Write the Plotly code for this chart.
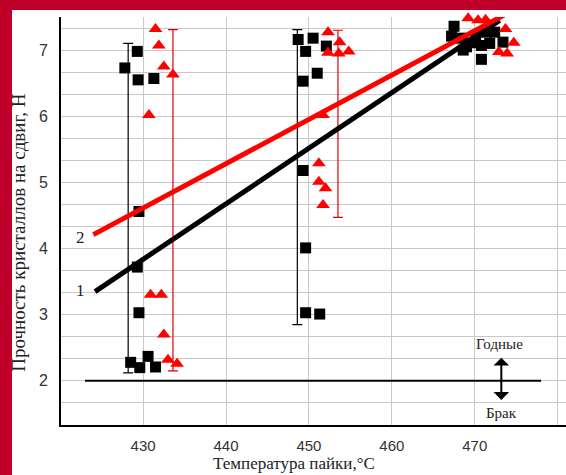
import plotly.graph_objects as go

# ---- data ----
# series 1 (black squares)
temp_1 = [427.8, 429.3, 429.4, 431.3, 429.5, 429.3, 429.5, 428.5, 429.6, 430.6, 431.5,
          448.7, 450.5, 449.6, 452.1, 451.0, 449.3, 449.3, 449.6, 449.6, 451.3,
          467.5, 467.2, 468.3, 468.6, 469.6, 470.1, 470.8, 471.4, 472.4, 471.8, 473.4, 470.8, 469.0]
strength_1 = [6.73, 6.98, 6.55, 6.57, 4.56, 3.72, 3.03, 2.28, 2.20, 2.37, 2.21,
              7.16, 7.18, 6.98, 7.06, 6.65, 6.53, 5.18, 4.01, 3.03, 3.01,
              7.36, 7.21, 7.18, 7.00, 7.11, 7.22, 7.07, 7.27, 7.27, 7.10, 7.12, 6.86, 7.05]
# series 2 (red triangles)
temp_2 = [431.5, 431.9, 432.5, 433.6, 430.7, 430.9, 432.2, 432.5, 433.0, 434.1,
          452.3, 453.7, 452.3, 453.6, 454.8, 451.7, 451.2, 451.2, 452.0, 451.7,
          469.2, 470.4, 471.3, 473.7, 474.7, 472.9, 473.9]
strength_2 = [7.32, 7.07, 6.75, 6.63, 6.02, 3.30, 3.30, 2.70, 2.32, 2.26,
              7.27, 7.12, 6.96, 6.95, 6.98, 6.02, 5.29, 5.01, 4.91, 4.66,
              7.48, 7.45, 7.46, 7.32, 7.11, 6.97, 6.95]
# range bars
bar1_x = [428.2, 448.6]
bar1_lo = [2.12, 2.85]
bar1_hi = [7.10, 7.31]
bar2_x = [433.6, 453.5]
bar2_lo = [2.15, 4.47]
bar2_hi = [7.31, 7.30]
# trend lines
line1_x = [424.2, 473.0]
line1_y = [3.35, 7.45]
line2_x = [424.0, 473.7]
line2_y = [4.21, 7.54]
# threshold line
limit_x = [423.0, 478.0]
limit_y = [2.0, 2.0]

x_ticks = [430, 440, 450, 460, 470, 480]
x_ticktext = ["430", "440", "450", "460", "470", ""]
y_ticks = [2, 3, 4, 5, 6, 7]

RED = "#C0002B"
SERIF = "Liberation Serif, Times New Roman, serif"
SANS = "Liberation Sans, Arial, sans-serif"

fig = go.Figure()

def bar_trace(xs, lo, hi, color):
    mid = [(a + b) / 2 for a, b in zip(lo, hi)]
    half = [(b - a) / 2 for a, b in zip(lo, hi)]
    return go.Scatter(x=xs, y=mid, mode="markers", marker=dict(opacity=0, size=1),
                      error_y=dict(type="data", array=half, symmetric=True,
                                   color=color, thickness=1.2, width=5),
                      hoverinfo="skip", showlegend=False, cliponaxis=False)

fig.add_trace(bar_trace(bar1_x, bar1_lo, bar1_hi, "black"))
fig.add_trace(bar_trace(bar2_x, bar2_lo, bar2_hi, "#E00000"))

fig.add_trace(go.Scatter(x=limit_x, y=limit_y, mode="lines",
                         line=dict(color="black", width=2), showlegend=False))

fig.add_trace(go.Scatter(x=temp_1, y=strength_1, mode="markers",
                         marker=dict(symbol="square", size=11, color="black"),
                         showlegend=False, cliponaxis=False))
fig.add_trace(go.Scatter(x=temp_2, y=strength_2, mode="markers",
                         marker=dict(symbol="triangle-up", size=12, color="#FF0000"),
                         showlegend=False, cliponaxis=False))

fig.add_trace(go.Scatter(x=line1_x, y=line1_y, mode="lines",
                         line=dict(color="black", width=5), showlegend=False, cliponaxis=False))
fig.add_trace(go.Scatter(x=line2_x, y=line2_y, mode="lines",
                         line=dict(color="#FF0000", width=5), showlegend=False, cliponaxis=False))

# labels
fig.add_annotation(x=422.5, y=4.17, text="2", showarrow=False,
                   font=dict(family=SERIF, size=17, color="#222"))
fig.add_annotation(x=422.5, y=3.37, text="1", showarrow=False,
                   font=dict(family=SERIF, size=17, color="#222"))
fig.add_annotation(x=473.0, y=2.56, text="Годные", showarrow=False,
                   font=dict(family=SERIF, size=15, color="#222"))
fig.add_annotation(x=473.2, y=1.52, text="Брак", showarrow=False,
                   font=dict(family=SERIF, size=15, color="#222"))
fig.add_annotation(x=473.2, y=2.35, ax=473.2, ay=1.69, axref="x", ayref="y",
                   xref="x", yref="y", text="", showarrow=True,
                   arrowside="end+start", arrowhead=1, arrowwidth=2, arrowsize=1.3,
                   arrowcolor="black")

# axis titles
fig.add_annotation(x=0.461, y=-0.094, xref="paper", yref="paper",
                   text="Температура пайки,°C", showarrow=False,
                   xanchor="center", yanchor="middle",
                   font=dict(family=SERIF, size=17, color="#222"))
fig.add_annotation(x=-0.084, y=0.47, xref="paper", yref="paper",
                   text="Прочность кристаллов на сдвиг, Н", showarrow=False,
                   textangle=-90, xanchor="center", yanchor="middle",
                   font=dict(family=SERIF, size=19, color="#222"))

# red frame background
fig.add_shape(type="rect", xref="paper", yref="paper",
              x0=-0.097, x1=1.05, y0=-0.2, y1=1.0169,
              fillcolor="white", line=dict(width=0), layer="below")

fig.update_layout(
    width=566, height=475,
    margin=dict(l=61, r=0, t=17, b=49.5),
    paper_bgcolor=RED, plot_bgcolor="white",
    showlegend=False,
)
fig.update_xaxes(range=[420.1, 481.0], tickmode="array", tickvals=x_ticks, ticktext=x_ticktext,
                 showgrid=True, gridcolor="#C8C8C8", gridwidth=1,
                 showline=True, linecolor="black", linewidth=2, ticks="",
                 zeroline=False, ticklabelstandoff=6,
                 tickfont=dict(family=SANS, size=15, color="#333"))
fig.update_yaxes(range=[1.333, 7.5], tickmode="array", tickvals=y_ticks,
                 showgrid=True, gridcolor="#C8C8C8", gridwidth=1,
                 minor=dict(tick0=0, dtick=1/3, showgrid=True, gridcolor="#C8C8C8", gridwidth=1),
                 showline=True, linecolor="black", linewidth=2, ticks="",
                 zeroline=False, ticklabelstandoff=8,
                 tickfont=dict(family=SANS, size=16, color="#333"))

fig.write_html("out.html", config={"displayModeBar": False},
               post_script="document.body.style.margin='0';document.body.style.overflow='hidden';")
